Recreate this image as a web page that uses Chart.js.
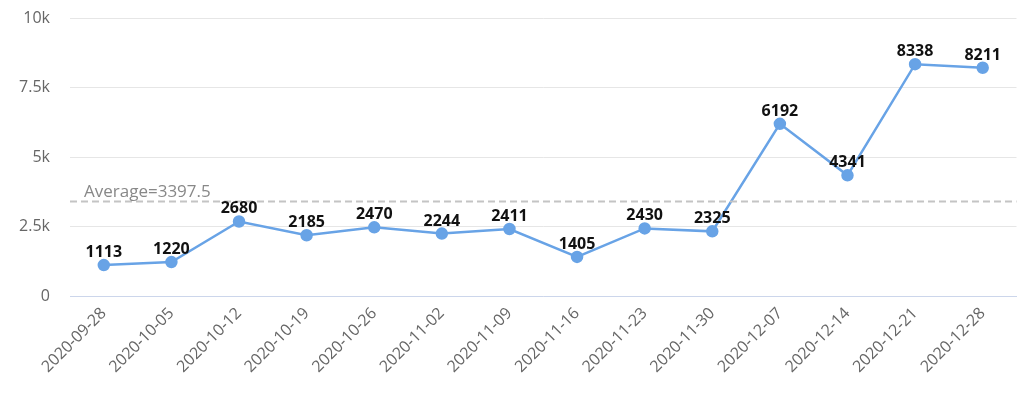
<!DOCTYPE html>
<html>
<head>
<meta charset="utf-8">
<script src="https://cdn.jsdelivr.net/npm/chart.js@4"></script>
<style>
  html, body { margin: 0; padding: 0; background: #fff; }
  #wrap { width: 1024px; height: 397px; }
</style>
</head>
<body>
<div id="wrap"><canvas id="chart" width="1024" height="397"></canvas></div>
<script>
const weeks = ['2020-09-28', '2020-10-05', '2020-10-12', '2020-10-19', '2020-10-26', '2020-11-02', '2020-11-09',
  '2020-11-16', '2020-11-23', '2020-11-30', '2020-12-07', '2020-12-14', '2020-12-21', '2020-12-28'];
const counts = [1113, 1220, 2680, 2185, 2470, 2244, 2411, 1405, 2430, 2325, 6192, 4341, 8338, 8211];
const averageValue = 3397.5;
const yTicks = [0, 2500, 5000, 7500, 10000];
const yTickLabels = ['0', '2.5k', '5k', '7.5k', '10k'];

// point value labels + average line
const overlay = {
  id: 'overlay',
  afterDatasetsDraw(chart) {
    const ctx = chart.ctx;
    const area = chart.chartArea;
    const y = chart.scales.y.getPixelForValue(averageValue);
    ctx.save();
    ctx.strokeStyle = '#c4c4c4';
    ctx.lineWidth = 2;
    ctx.setLineDash([7, 4]);
    ctx.beginPath();
    ctx.moveTo(area.left, y);
    ctx.lineTo(area.right, y);
    ctx.stroke();
    ctx.setLineDash([]);
    ctx.fillStyle = '#888';
    ctx.font = '17px "Open Sans", sans-serif';
    ctx.textAlign = 'left';
    ctx.textBaseline = 'alphabetic';
    ctx.fillText('Average=' + averageValue, area.left + 14, y - 5);

    ctx.fillStyle = '#111';
    ctx.font = 'bold 16px "Open Sans", sans-serif';
    ctx.textAlign = 'center';
    const meta = chart.getDatasetMeta(0);
    meta.data.forEach((pt, i) => {
      ctx.fillText(String(counts[i]), pt.x, pt.y - 8);
    });
    ctx.restore();
  }
};

new Chart(document.getElementById('chart').getContext('2d'), {
  type: 'line',
  data: {
    labels: weeks,
    datasets: [{
      data: counts,
      borderColor: '#68a3e6',
      backgroundColor: '#68a3e6',
      borderWidth: 2.5,
      pointRadius: 5,
      pointHoverRadius: 5,
      tension: 0,
      fill: false
    }]
  },
  plugins: [overlay],
  options: {
    responsive: false,
    animation: false,
    layout: { padding: { top: 18, right: 6, left: 0, bottom: 0 } },
    plugins: { legend: { display: false }, tooltip: { enabled: false } },
    scales: {
      x: {
        offset: true,
        grid: { display: false, drawTicks: false },
        border: { color: '#ccd6eb', width: 1 },
        ticks: {
          color: '#666',
          font: { size: 16, family: '"Open Sans", sans-serif' },
          minRotation: 45,
          maxRotation: 45,
          autoSkip: false,
          padding: 8
        },
        afterFit(scale) { scale.height = 101; }
      },
      y: {
        min: 0,
        max: 10000,
        afterBuildTicks(scale) { scale.ticks = yTicks.map(v => ({ value: v })); },
        grid: { color: '#e6e6e6', drawTicks: false },
        border: { display: false },
        ticks: {
          color: '#666',
          font: { size: 16, family: '"Open Sans", sans-serif' },
          padding: 20,
          callback: (v) => yTickLabels[yTicks.indexOf(v)]
        },
        afterFit(scale) {
          scale.width = 70;
          scale.paddingTop = 0;
          scale.paddingBottom = 0;
        }
      }
    }
  }
});
</script>
</body>
</html>
